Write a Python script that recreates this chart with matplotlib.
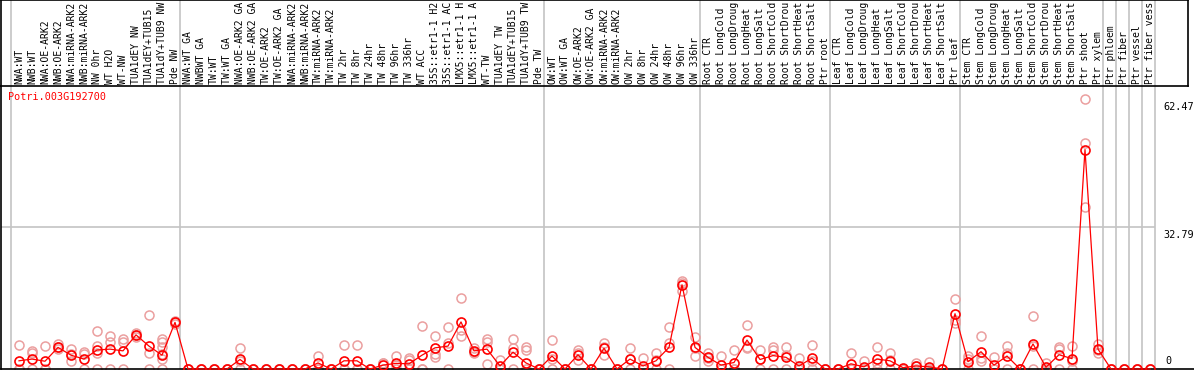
import matplotlib
matplotlib.use("Agg")
import matplotlib.pyplot as plt
from matplotlib.transforms import blended_transform_factory

# sample names as printed (the source cuts them at 14 characters)
labels = [
	"NWA:WT", "NWB:WT", "NWA:OE-ARK2", "NWB:OE-ARK2", "NWA:miRNA-ARK2", "NWB:miRNA-ARK2",
	"NW 0hr", "WT H2O", "WT-NW", "TUA1dEY NW", "TUA1dEY+TUB15", "TUA1dY+TUB9 NW", "Pde NW",
	"NWA:WT GA", "NWBWT GA", "TW:WT", "TW:WT GA", "NWA:OE-ARK2 GA", "NWB:OE-ARK2 GA",
	"TW:OE-ARK2", "TW:OE-ARK2 GA", "NWA:miRNA-ARK2", "NWB:miRNA-ARK2", "TW:miRNA-ARK2",
	"TW:miRNA-ARK2", "TW 2hr", "TW 8hr", "TW 24hr", "TW 48hr", "TW 96hr", "TW 336hr",
	"WT ACC", "35S::etr1-1 H2", "35S::etr1-1 AC", "LMX5::etr1-1 H", "LMX5::etr1-1 A",
	"WT-TW", "TUA1dEY TW", "TUA1dEY+TUB15", "TUA1dY+TUB9 TW", "Pde TW",
	"OW:WT", "OW:WT GA", "OW:OE-ARK2", "OW:OE-ARK2 GA", "OW:miRNA-ARK2", "OW:miRNA-ARK2",
	"OW 2hr", "OW 8hr", "OW 24hr", "OW 48hr", "OW 96hr", "OW 336hr",
	"Root CTR", "Root LongCold", "Root LongDroug", "Root LongHeat", "Root LongSalt",
	"Root ShortCold", "Root ShortDrou", "Root ShortHeat", "Root ShortSalt", "Ptr root",
	"Leaf CTR", "Leaf LongCold", "Leaf LongDroug", "Leaf LongHeat", "Leaf LongSalt",
	"Leaf ShortCold", "Leaf ShortDrou", "Leaf ShortHeat", "Leaf ShortSalt", "Ptr leaf",
	"Stem CTR", "Stem LongCold", "Stem LongDroug", "Stem LongHeat", "Stem LongSalt",
	"Stem ShortCold", "Stem ShortDrou", "Stem ShortHeat", "Stem ShortSalt", "Ptr shoot",
	"Ptr xylem", "Ptr phloem", "Ptr fiber", "Ptr vessel", "Ptr fiber vess",
]

# mean expression per column
means = [
	1.9, 2.3, 1.8, 5.0, 3.2, 2.3, 4.4, 4.6, 4.2, 7.9, 5.3, 3.2, 10.8,
	0, 0, 0, 0, 2.2, 0, 0, 0, 0, 0, 1.4, 0, 1.9, 1.9, 0, 0.9, 1.3, 1.2,
	3.2, 4.9, 5.3, 10.9, 4.2, 4.6, 0.7, 3.9, 1.4, 0,
	3.0, 0, 3.3, 0, 4.8, 0, 2.3, 0.7, 1.9, 5.0, 19.5, 5.0,
	2.7, 0.9, 1.5, 6.7, 2.2, 3.1, 2.7, 0.7, 2.5, 0,
	0, 1.2, 0.5, 2.3, 1.9, 0.3, 0.7, 0.5, 0, 12.8,
	1.7, 4.0, 0.9, 3.0, 0, 5.8, 0.4, 3.3, 2.4, 50.8,
	4.6, 0, 0, 0, 0,
]

# individual replicates per column
replicates = [
	[5.6, 0, 0], [4.2, 3.6, 0], [5.3, 0, 0], [5.7, 5.1, 4.6], [4.6, 3.5, 1.9],
	[3.9, 3.5, 0], [8.8, 5.4, 3.8, 0], [7.7, 6.3, 0], [7.0, 6.3, 0], [8.3, 7.9, 7.5],
	[12.6, 3.6, 0], [7.0, 6.3, 5.2, 3.5, 2.2, 0], [11.1, 10.8, 10.4],
	[0, 0, 0], [0, 0, 0], [0, 0, 0], [0, 0, 0], [4.8, 1.9, 0], [0, 0, 0], [0, 0, 0],
	[0, 0, 0], [0, 0, 0], [0, 0, 0], [3.0, 0, 0], [0, 0, 0], [5.6, 0, 0], [5.6, 0, 0],
	[0, 0, 0], [1.5, 1.3, 0], [3.0, 0.9, 0], [2.5, 2.0, 0],
	[9.9, 0, 0], [7.7, 3.5, 2.7], [9.7, 6.1, 0], [16.4, 9.1, 7.7], [4.9, 4.0, 3.6],
	[7.0, 6.3, 1.2], [2.1, 0, 0], [6.9, 4.8, 0], [5.2, 4.3, 0], [0, 0, 0],
	[6.7, 2.3, 0], [0, 0, 0], [4.3, 3.6, 2.0], [0, 0, 0], [6.0, 5.2, 3.3], [0, 0, 0],
	[4.8, 2.2, 0], [2.5, 0, 0], [3.6, 2.0, 0], [9.8, 6.1, 0], [20.4, 19.9, 18.0],
	[7.4, 4.9, 2.9],
	[3.8, 2.5, 1.9], [3.0, 0, 0], [4.3, 0, 0], [10.2, 5.2, 4.8], [4.3, 2.4, 0],
	[5.2, 4.3, 0], [5.0, 3.2, 0], [2.5, 0, 0], [5.6, 1.9, 0], [0, 0, 0],
	[0, 0, 0], [3.8, 0, 0], [1.9, 0, 0], [5.0, 1.5, 0], [3.8, 2.1, 0], [0, 0, 0],
	[1.5, 0.6, 0], [1.7, 0, 0], [0, 0, 0], [16.2, 11.4, 10.7],
	[3.0, 2.2, 0], [7.7, 2.5, 1.9], [2.7, 0, 0], [5.3, 3.7, 0], [0, 0, 0],
	[12.3, 5.3, 0], [1.5, 0, 0], [5.2, 4.6, 0], [5.3, 1.9, 0], [62.47, 52.4, 37.5],
	[5.8, 4.3, 3.8], [0, 0, 0], [0, 0, 0], [0, 0, 0], [0, 0, 0],
]

group_starts = [0, 13, 41, 53, 63, 73, 84, 85, 86, 87]
value_marks = [62.47, 32.79, 0]
gene_id = "Potri.003G192700"

W, H = 1194, 370
PITCH, FIRST = 13.0, 19.0  # column spacing / first column centre, in pixels
MONO = "DejaVu Sans Mono"
FS = 7.0
GRID = "#c4c4c4"


def px_to_col(px):
	return (px - FIRST) / PITCH


fig = plt.figure(figsize=(W / 100, H / 100), dpi=100)

# plot region: pixel rows 86..369
ax = fig.add_axes([1 / W, 1 / H, (W - 1) / W, (369 - 86) / H])
ax.set_xlim(px_to_col(1), px_to_col(W))
ax.set_ylim(0, (369 - 86) / 4.32)
ax.set_xticks([])
ax.set_yticks([])
for side in ("top", "right"):
	ax.spines[side].set_visible(False)
for side in ("left", "bottom"):
	ax.spines[side].set_linewidth(1.2)

# label strip on top
lab = fig.add_axes([1 / W, (H - 86) / H, (1188 - 1) / W, 86 / H])
lab.set_xlim(px_to_col(1), px_to_col(1188))
lab.set_ylim(0, 1)
lab.set_xticks([])
lab.set_yticks([])
for sp in lab.spines.values():
	sp.set_linewidth(1.2)

n = len(labels)
bounds = group_starts + [n]
for s in bounds:
	ax.axvline(s - 0.62, color=GRID, lw=1.2, zorder=1)
	lab.axvline(s - 0.62, color=GRID, lw=1.2, zorder=1)

ax.hlines(32.79, px_to_col(1), n - 0.62, color=GRID, lw=1.2, zorder=1)

tr = blended_transform_factory(lab.transData, lab.transAxes)
for i, name in enumerate(labels):
	lab.text(i, 2 / 86, name, rotation=90, ha="center", va="bottom",
		fontsize=FS, family=MONO, transform=tr)

xs = list(range(n))
rx = [i for i, reps in enumerate(replicates) for _ in reps]
ry = [v for reps in replicates for v in reps]

ax.plot(rx, ry, "o", mfc="none", mec="#eb9f9f", ms=6.5, mew=1.1, zorder=2, clip_on=False)
ax.plot(xs, means, color="red", lw=0.9, zorder=3, clip_on=False)
ax.plot(xs, means, "o", mfc="none", mec="red", ms=6.5, mew=1.2, zorder=4, clip_on=False)

ax.annotate(gene_id, xy=(0, 1), xycoords="axes fraction", xytext=(7, -11),
	textcoords="offset pixels", color="red", ha="left", va="center",
	fontsize=7.25, family=MONO)

for v in value_marks:
	if v == 0:
		ax.annotate("0", xy=(n, v), xytext=(2, 3), textcoords="offset pixels",
			ha="left", va="bottom", fontsize=7.25, family=MONO, annotation_clip=False)
	else:
		ax.annotate(f"{v:.2f}", xy=(n, v), xytext=(0, -3), textcoords="offset pixels",
			ha="left", va="top", fontsize=7.25, family=MONO, annotation_clip=False)

fig.savefig("out.png", dpi=100)
